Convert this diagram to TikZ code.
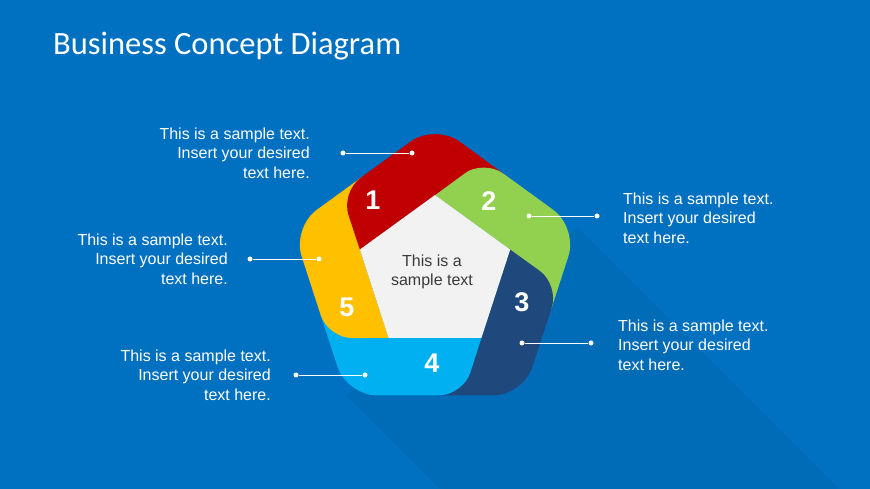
\documentclass[tikz,border=0pt]{standalone}
\usepackage{fontspec}
\setmainfont{Liberation Sans}
\newfontfamily\titlefont{Carlito}
\usetikzlibrary{calc}

\definecolor{slideblue}{RGB}{0,112,192}
\definecolor{bandred}{RGB}{192,0,0}
\definecolor{bandgreen}{RGB}{146,208,80}
\definecolor{banddark}{RGB}{31,72,124}
\definecolor{bandlight}{RGB}{0,176,240}
\definecolor{bandyellow}{RGB}{255,192,0}
\definecolor{centergray}{RGB}{242,242,242}
\definecolor{centertext}{RGB}{58,58,58}

\begin{document}
\begin{tikzpicture}[x=1pt, y=1pt,
    note/.style={text=white, font=\fontsize{16}{19.5}\selectfont, inner sep=0pt},
    num/.style={text=white, font=\fontsize{27}{30}\selectfont\bfseries},
    dot/.style={circle, fill=white, inner sep=0pt, minimum size=5pt},
    leader/.style={white, line width=0.8pt}]
  \fill[slideblue] (0,0) rectangle (870,489);
  \useasboundingbox (0,0) rectangle (870,489);
  \coordinate (C) at (435,215);
  % inner pentagon
  \coordinate (Itop) at ($(C)+(90:79)$);
  \coordinate (Iright) at ($(C)+(18:79)$);
  \coordinate (Ibr) at ($(C)+(-54:79)$);
  \coordinate (Ibl) at ($(C)+(-126:79)$);
  \coordinate (Ileft) at ($(C)+(162:79)$);
  % outer pentagon
  \coordinate (Otop) at ($(C)+(90:150)$);
  \coordinate (Oright) at ($(C)+(18:150)$);
  \coordinate (Obr) at ($(C)+(-54:150)$);
  \coordinate (Obl) at ($(C)+(-126:150)$);
  \coordinate (Oleft) at ($(C)+(162:150)$);
  % where each band starts on the outer edge
  \coordinate (Pred) at ($(C)+(139:124.6)$);
  \coordinate (Pgreen) at ($(C)+(67:124.6)$);
  \coordinate (Pdark) at ($(C)+(-5:124.6)$);
  \coordinate (Plight) at ($(C)+(-77:124.6)$);
  \coordinate (Pyellow) at ($(C)+(-149:124.6)$);

  % long shadow
  \begin{scope}
    \clip (0,0) rectangle (870,489);
    \fill[black, opacity=0.045] (Oright) -- ($(Oright)+(-45:600)$) -- ($(Obl)+(-45:600)$) -- (Obl) -- cycle;
  \end{scope}

  % bands
  \fill[bandred] (Ileft) [rounded corners=24pt] -- (Pred) [rounded corners=30pt] -- (Otop) [sharp corners] -- (Pgreen) -- ($(Pgreen)+(-36:26)$) -- ($(Itop)+(-36:26)$) -- (Itop) -- cycle;
  \fill[bandgreen] (Itop) [rounded corners=24pt] -- (Pgreen) [rounded corners=30pt] -- (Oright) [sharp corners] -- (Pdark) -- ($(Pdark)+(252:26)$) -- ($(Iright)+(252:26)$) -- (Iright) -- cycle;
  \fill[banddark] (Iright) [rounded corners=24pt] -- (Pdark) [rounded corners=30pt] -- (Obr) [sharp corners] -- (Plight) -- ($(Plight)+(180:26)$) -- ($(Ibr)+(180:26)$) -- (Ibr) -- cycle;
  \fill[bandlight] (Ibr) [rounded corners=24pt] -- (Plight) [rounded corners=30pt] -- (Obl) [sharp corners] -- (Pyellow) -- ($(Pyellow)+(108:26)$) -- ($(Ibl)+(108:26)$) -- (Ibl) -- cycle;
  \fill[bandyellow] (Ibl) [rounded corners=24pt] -- (Pyellow) [rounded corners=30pt] -- (Oleft) [sharp corners] -- (Pred) -- ($(Pred)+(36:26)$) -- ($(Ileft)+(36:26)$) -- (Ileft) -- cycle;
  \fill[bandred] (Ileft) [rounded corners=24pt] -- (Pred) [rounded corners=30pt] -- (Otop) [sharp corners] -- (Pgreen) -- (Itop) -- cycle;
  \fill[centergray] (Itop) -- (Iright) -- (Ibr) -- (Ibl) -- (Ileft) -- cycle;

  % title and centre text
  \node[anchor=base west, inner sep=0pt, text=white, font=\titlefont\fontsize{32.5}{36}\selectfont] (title) at (53,434) {Business Concept Diagram};
  \node[align=center, text=centertext, font=\fontsize{16}{19.5}\selectfont] (center) at (432,217) {This is a\\sample text};

  \node[num] (n1) at (373,289) {1};
  \node[num] (n2) at (489,288) {2};
  \node[num] (n3) at (522,187) {3};
  \node[num] (n4) at (432,126) {4};
  \node[num] (n5) at (347,182) {5};

  % callouts
  \node[note, anchor=east, align=right] (ta) at (310,336) {This is a sample text.\\Insert your desired\\text here.};
  \node[note, anchor=west, align=left] (tb) at (623,271) {This is a sample text.\\Insert your desired\\text here.};
  \node[note, anchor=east, align=right] (tc) at (228,230) {This is a sample text.\\Insert your desired\\text here.};
  \node[note, anchor=west, align=left] (td) at (618,144) {This is a sample text.\\Insert your desired\\text here.};
  \node[note, anchor=east, align=right] (te) at (271,114) {This is a sample text.\\Insert your desired\\text here.};

  \node[dot] (a1) at (343,336) {};
  \node[dot] (a2) at (412,336) {};
  \node[dot] (b1) at (529,273) {};
  \node[dot] (b2) at (597,273) {};
  \node[dot] (c1) at (250,230) {};
  \node[dot] (c2) at (319,230) {};
  \node[dot] (d1) at (522,146) {};
  \node[dot] (d2) at (591,146) {};
  \node[dot] (e1) at (296,114) {};
  \node[dot] (e2) at (365,114) {};
  \draw[leader] (a1) -- (a2);
  \draw[leader] (b1) -- (b2);
  \draw[leader] (c1) -- (c2);
  \draw[leader] (d1) -- (d2);
  \draw[leader] (e1) -- (e2);
\end{tikzpicture}
\end{document}
